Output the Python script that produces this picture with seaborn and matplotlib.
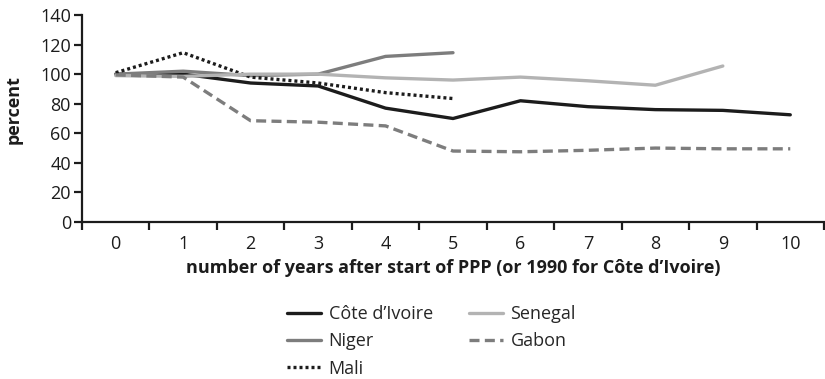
import numpy as np
import pandas as pd
import matplotlib
matplotlib.use("Agg")
import matplotlib.pyplot as plt
import seaborn as sns
from matplotlib.ticker import FixedLocator

# Index values (percent) by years after start of PPP
years = list(range(11))
cote_divoire = [100, 100, 94, 92, 77, 70, 82, 78, 76, 75.5, 72.5]
niger = [100, 102, 99, 100, 112, 114.5, np.nan, np.nan, np.nan, np.nan, np.nan]
mali = [101, 114.5, 98, 94, 87.5, 83.5, np.nan, np.nan, np.nan, np.nan, np.nan]
senegal = [99, 98.5, 100, 100, 97.5, 96, 98, 95.5, 92.5, 105.5, np.nan]
gabon = [99.5, 98, 68.5, 67.5, 65, 48, 47.5, 48.5, 50, 49.5, 49.5]

y_ticks = [0, 20, 40, 60, 80, 100, 120, 140]
x_label = "number of years after start of PPP (or 1990 for C\u00f4te d\u2019Ivoire)"
y_label = "percent"

series = [
    ("C\u00f4te d\u2019Ivoire", cote_divoire, "#1c1c1c", "-"),
    ("Niger", niger, "#7d7d7d", "-"),
    ("Mali", mali, "#1c1c1c", (0, (0.9, 0.9))),
    ("Senegal", senegal, "#b3b3b3", "-"),
    ("Gabon", gabon, "#7d7d7d", (0, (3, 1.6))),
]

sns.set_style("ticks")
plt.rcParams["font.family"] = ["Open Sans", "DejaVu Sans"]

fig = plt.figure(figsize=(8.25, 3.79), dpi=100)
ax = fig.add_axes([82 / 825, 1 - 222 / 379, 742 / 825, 207 / 379])

for name, vals, color, ls in series:
    df = pd.DataFrame({"year": years, "value": vals})
    sns.lineplot(data=df, x="year", y="value", ax=ax, color=color,
                 linestyle=ls, linewidth=2.4, label=name, legend=False)

ax.set_xlim(-0.5, 10.5)
ax.set_ylim(0, 140)
ax.set_yticks(y_ticks)
ax.set_xticks(years)
ax.set_xticklabels([str(y) for y in years])
ax.xaxis.set_minor_locator(FixedLocator(np.arange(-0.5, 11, 1.0)))
ax.tick_params(axis="x", which="major", length=0, pad=9, labelsize=13, colors="#1c1c1c")
ax.tick_params(axis="x", which="minor", length=6, width=1.6, color="#1c1c1c", direction="out")
ax.tick_params(axis="y", length=6, width=1.6, pad=2, labelsize=13, colors="#1c1c1c")

for side in ["top", "right"]:
    ax.spines[side].set_visible(False)
for side in ["left", "bottom"]:
    ax.spines[side].set_linewidth(1.6)
    ax.spines[side].set_color("#1c1c1c")

ax.set_xlabel(x_label, fontsize=13, fontweight="bold", color="#1c1c1c", labelpad=5)
ax.set_ylabel(y_label, fontsize=13, fontweight="bold", color="#1c1c1c")
ax.yaxis.set_label_coords(-0.0795, 0.541)

handles, labels = ax.get_legend_handles_labels()
fig.legend(handles, labels, loc="upper left", bbox_to_anchor=(287 / 825, 1 - 305 / 379),
           ncol=2, frameon=False, fontsize=13, handlelength=1.9, handletextpad=0.4,
           columnspacing=2.0, labelspacing=0.52, borderpad=0, borderaxespad=0)

fig.savefig("out.png", dpi=100)
